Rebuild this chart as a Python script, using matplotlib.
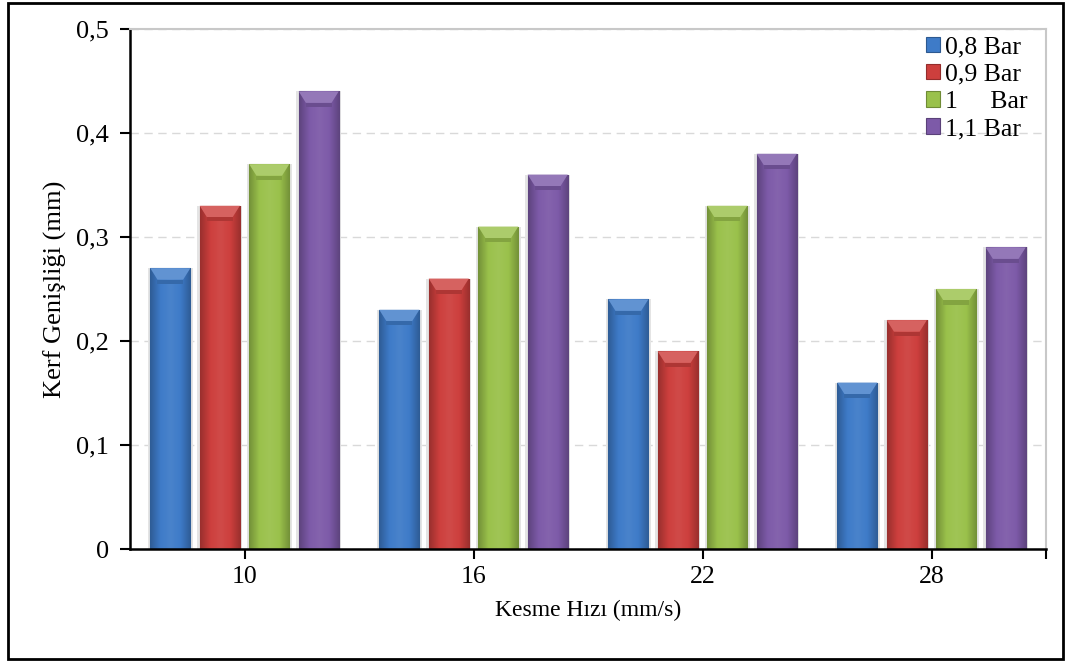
import numpy as np
import matplotlib
matplotlib.use("Agg")
import matplotlib.pyplot as plt
from matplotlib.colors import LinearSegmentedColormap, to_rgb
from matplotlib.patches import Rectangle

categories = ["10", "16", "22", "28"]
series_names = ["0,8 Bar", "0,9 Bar", "1     Bar", "1,1 Bar"]
v08 = [0.27, 0.23, 0.24, 0.16]
v09 = [0.33, 0.26, 0.19, 0.22]
v10 = [0.37, 0.31, 0.33, 0.25]
v11 = [0.44, 0.36, 0.38, 0.29]
series_values = [v08, v09, v10, v11]
colors = ["#3E7BC8", "#CD3F3D", "#9AC14B", "#7D5AA8"]
yticks = [0, 0.1, 0.2, 0.3, 0.4, 0.5]
ytick_labels = ["0", "0,1", "0,2", "0,3", "0,4", "0,5"]

plt.rcParams['font.family'] = ['Liberation Serif', 'DejaVu Serif']

fig = plt.figure(figsize=(10.68, 6.61), dpi=100)
ax = fig.add_axes([130/1068, 1-549/661, (1046-130)/1068, (549-29)/661])

x = np.arange(len(categories))
width = 0.175
step = 0.216

def shade(c, f):
    r = np.array(to_rgb(c))
    if f < 1:
        return tuple(r * f)
    return tuple(r + (1 - r) * (f - 1))

for i, (vals, col, name) in enumerate(zip(series_values, colors, series_names)):
    pos = x + (i - 1.5) * step
    ax.bar(pos, vals, width=width * 1.12, color='#E4E4E4', linewidth=0, zorder=2)
    bars = ax.bar(pos, vals, width=width, color=col, edgecolor=shade(col, 0.72),
                  linewidth=0.8, label=name, zorder=3)
    cmap = LinearSegmentedColormap.from_list(
        "g%d" % i, [shade(col, 0.75), col, shade(col, 1.06), col, shade(col, 0.75)])
    grad = np.linspace(0, 1, 64).reshape(1, -1)
    for b in bars:
        bx, by = b.get_x(), b.get_y()
        bw, bh = b.get_width(), b.get_height()
        im = ax.imshow(grad, cmap=cmap, aspect='auto',
                       extent=[bx, bx + bw, by, by + bh], zorder=3.5,
                       interpolation='bicubic')
        im.set_clip_path(b)
        bev = 0.011
        ins = bw * 0.18
        ax.fill([bx, bx + bw, bx + bw - ins, bx + ins],
                [by + bh, by + bh, by + bh - bev, by + bh - bev],
                color=shade(col, 1.18), zorder=3.6, linewidth=0)
        ax.fill([bx + ins, bx + bw - ins, bx + bw - ins, bx + ins],
                [by + bh - bev, by + bh - bev, by + bh - bev - 0.004, by + bh - bev - 0.004],
                color=shade(col, 0.85), zorder=3.6, linewidth=0)

ax.set_xlim(-0.5, 3.5)
ax.set_ylim(0, 0.5)
ax.set_xticks(x)
ax.set_xticklabels(categories, fontsize=18.5)
ax.set_xticks([3.5], minor=True)
ax.set_yticks(yticks)
ax.set_yticklabels(ytick_labels, fontsize=19)
ax.tick_params(axis='both', which='both', direction='out', length=7, width=1.5, color='black')
ax.tick_params(axis='x', pad=5)
ax.tick_params(axis='y', pad=8)

ax.yaxis.grid(True, color='#D9D9D9', linestyle=(0, (6, 4)), linewidth=1, zorder=0)
ax.set_axisbelow(True)
for s in ['top', 'right']:
    ax.spines[s].set_color('#C8C8C8')
    ax.spines[s].set_linewidth(1.5)
for s in ['left', 'bottom']:
    ax.spines[s].set_color('black')
    ax.spines[s].set_linewidth(1.8)
ax.spines['bottom'].set_zorder(5)

ax.set_ylabel("Kerf Genişliği (mm)", fontsize=19, labelpad=7)
ax.set_xlabel("Kesme Hızı (mm/s)", fontsize=17, labelpad=9)

leg = ax.legend(loc='upper right', bbox_to_anchor=(1.0, 1.02), frameon=False,
                fontsize=18.5, handlelength=0.55, handleheight=0.55,
                handletextpad=0.2, labelspacing=0.2, borderaxespad=0.3)

fig.patches.append(Rectangle((8/1068, 1-659/661), (1063-8)/1068, (659-3)/661,
                             transform=fig.transFigure, fill=False,
                             edgecolor='black', linewidth=2))

fig.savefig("out.png", dpi=100)
